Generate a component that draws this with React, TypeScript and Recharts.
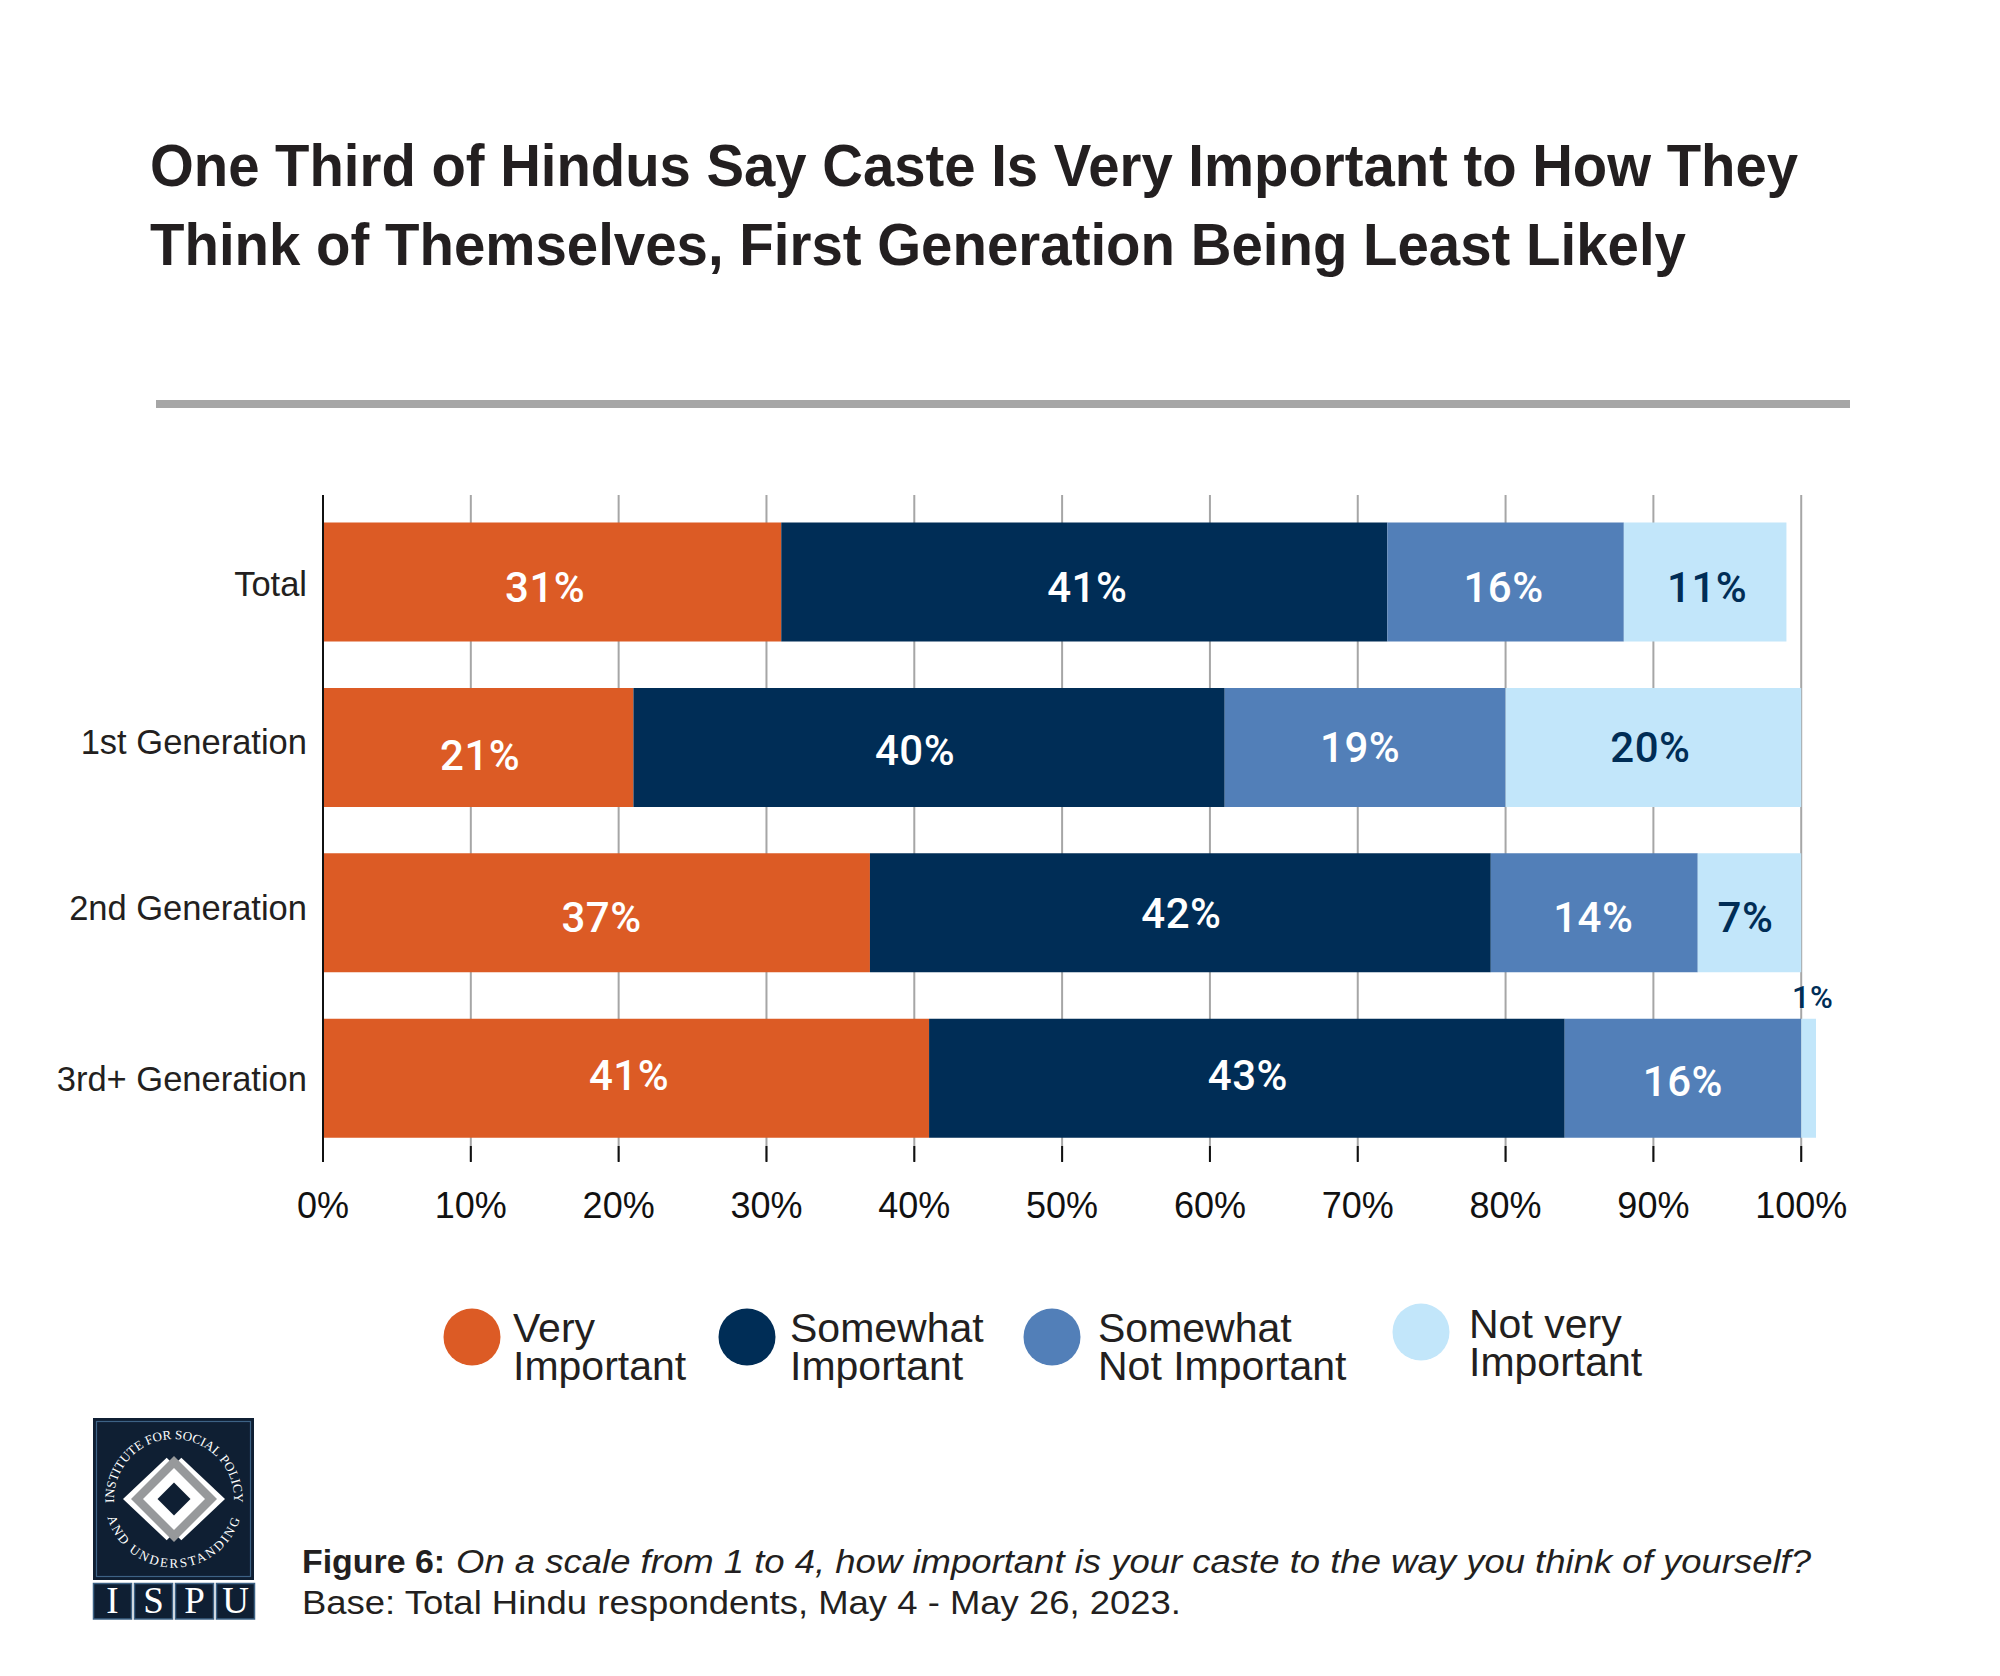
import { BarChart, Bar, XAxis, YAxis, CartesianGrid, LabelList } from "recharts";

const categories = ["Total", "1st Generation", "2nd Generation", "3rd+ Generation"];
const veryImportant = [31, 21, 37, 41];
const somewhatImportant = [41, 40, 42, 43];
const somewhatNot = [16, 19, 14, 16];
const notVery = [11, 20, 7, 1];
const xTicks = [0, 10, 20, 30, 40, 50, 60, 70, 80, 90, 100];

const ORANGE = "#dc5b25";
const NAVY = "#002d56";
const BLUE = "#527fb8";
const LIGHT = "#c2e6fa";
const LOGO = "#0f1f33";
const LOGO_EDGE = "#3d6285";
const INK = "#231f20";
const SANS = "'Liberation Sans', Arial, sans-serif";
const SERIF = "'Liberation Serif', serif";

// hand nudges, the labels in the original are not quite centred on their bars
const nudgeVery = [[-7, 5], [2, 8], [5, 4], [3, -3]];
const nudgeSomewhat = [[3, 5], [-14, 3], [1, 0], [1, -3]];
const nudgeNot = [[-2, 5], [-5, 0], [-1, 4], [0, 3]];
const nudgeNotVery = [[2, 5], [-3, 0], [-4, 4], [4, -81]];
const yTickNudge = [2, -6, -5, 1];

const data = categories.map((name, i) => ({
  name,
  veryImportant: veryImportant[i],
  somewhatImportant: somewhatImportant[i],
  somewhatNot: somewhatNot[i],
  notVery: notVery[i],
}));

const legend = [
  { color: ORANGE, lines: ["Very", "Important"], cx: 472, cy: 1337, tx: 513, y1: 1342, y2: 1380 },
  { color: NAVY, lines: ["Somewhat", "Important"], cx: 747, cy: 1337, tx: 790, y1: 1342, y2: 1380 },
  { color: BLUE, lines: ["Somewhat", "Not Important"], cx: 1052, cy: 1337, tx: 1098, y1: 1342, y2: 1380 },
  { color: LIGHT, lines: ["Not very", "Important"], cx: 1421, cy: 1332, tx: 1469, y1: 1338, y2: 1376 },
];

function barLabel(nudges: number[][], color: string) {
  return (props: any) => {
    const { x, y, width, height, value, index } = props;
    const [dx, dy] = nudges[index];
    const small = value === 1;
    return (
      <text
        x={x + width / 2 + dx}
        y={y + height / 2 + dy + (small ? 11 : 15)}
        textAnchor="middle"
        fontFamily="Roboto, sans-serif"
        fontWeight={500}
        fontSize={small ? 31 : 42}
        letterSpacing={0.5}
        fill={small ? NAVY : color}
      >
        {value}%
      </text>
    );
  };
}

function XTick({ x, y, payload }: any) {
  return (
    <g>
      <line x1={x} x2={x} y1={y - 15} y2={y + 1} stroke="#111" strokeWidth={2} />
      <text x={x} y={y + 57} textAnchor="middle" fontFamily={SANS} fontSize={36} fill="#111">
        {payload.value}%
      </text>
    </g>
  );
}

function YTick({ x, y, payload, index }: any) {
  return (
    <text x={x - 16} y={y + yTickNudge[index] + 12} textAnchor="end" fontFamily={SANS} fontSize={34.5} fill={INK}>
      {payload.value}
    </text>
  );
}

function Logo() {
  const cx = 174;
  const cy = 1499;
  const poly = (pts: number[][]) => pts.map(([a, b]) => `${cx + a},${cy + b}`).join(" ");
  const diamond = (h: number) => poly([[-h, 0], [0, -h], [h, 0], [0, h]]);
  const band = (s: number) => poly([[s * 51, 0], [s * 7.3, -41.3], [0, -34], [0, 34], [s * 7.3, 41.3]]);
  const boxes = ["I", "S", "P", "U"];
  return (
    <g>
      <rect x={93} y={1418} width={161} height={162} fill={LOGO} />
      <rect x={96.5} y={1421.5} width={154} height={155} fill="none" stroke={LOGO_EDGE} strokeWidth={1.2} />
      <polygon points={band(-1)} fill="#fff" />
      <polygon points={band(1)} fill="#fff" />
      <polygon points={diamond(43)} fill="#97999b" />
      <polygon points={diamond(31)} fill="#fff" />
      <polygon points={diamond(16.5)} fill={LOGO} />
      <path id="logoTop" d={`M ${cx - 56.6} ${cy + 20} A 60 60 0 1 1 ${cx + 56.6} ${cy + 20}`} fill="none" />
      <path id="logoBottom" d={`M ${cx - 68.5} ${cy + 8} A 69 69 0 0 0 ${cx + 68.5} ${cy + 8}`} fill="none" />
      <text fontFamily={SERIF} fontSize={13} fill="#fff">
        <textPath href="#logoTop" startOffset="50%" textAnchor="middle">INSTITUTE FOR SOCIAL POLICY</textPath>
      </text>
      <text fontFamily={SERIF} fontSize={13} fill="#fff" letterSpacing={2.2}>
        <textPath href="#logoBottom" startOffset="50%" textAnchor="middle">AND UNDERSTANDING</textPath>
      </text>
      {boxes.map((b, i) => (
        <g key={b}>
          <rect x={93.5 + i * 41} y={1583.5} width={38} height={35.5} fill={LOGO} stroke={LOGO_EDGE} strokeWidth={1.5} />
          <text x={112.5 + i * 41} y={1613} textAnchor="middle" fontFamily={SERIF} fontSize={37} fill="#fff">{b}</text>
        </g>
      ))}
    </g>
  );
}

export default function App() {
  return (
    <div style={{ position: "absolute", left: 0, top: 0, width: 2000, height: 1676, background: "#fff" }}>
      <svg width={2000} height={1676} style={{ position: "absolute", left: 0, top: 0 }}>
        <text x={150} y={186} fontFamily={SANS} fontWeight={700} fontSize={59} fill={INK} textLength={1648} lengthAdjust="spacingAndGlyphs">
          One Third of Hindus Say Caste Is Very Important to How They
        </text>
        <text x={150} y={265} fontFamily={SANS} fontWeight={700} fontSize={59} fill={INK} textLength={1536} lengthAdjust="spacingAndGlyphs">
          Think of Themselves, First Generation Being Least Likely
        </text>
        <rect x={156} y={400} width={1694} height={8} fill="#a6a6a6" />

        {legend.map((l) => (
          <g key={l.lines.join(" ")}>
            <circle cx={l.cx} cy={l.cy} r={28.5} fill={l.color} />
            <text x={l.tx} y={l.y1} fontFamily={SANS} fontSize={41} fill={INK}>{l.lines[0]}</text>
            <text x={l.tx} y={l.y2} fontFamily={SANS} fontSize={41} fill={INK}>{l.lines[1]}</text>
          </g>
        ))}

        <Logo />

        <text x={302} y={1573} fontFamily={SANS} fontWeight={700} fontSize={33} fill={INK} textLength={143} lengthAdjust="spacingAndGlyphs">
          Figure 6:
        </text>
        <text x={456} y={1573} fontFamily={SANS} fontStyle="italic" fontSize={33} fill={INK} textLength={1355} lengthAdjust="spacingAndGlyphs">
          On a scale from 1 to 4, how important is your caste to the way you think of yourself?
        </text>
        <text x={302} y={1614} fontFamily={SANS} fontSize={33} fill={INK} textLength={879} lengthAdjust="spacingAndGlyphs">
          Base: Total Hindu respondents, May 4 - May 26, 2023.
        </text>
      </svg>

      <div style={{ position: "absolute", left: 0, top: 0 }}>
        <BarChart
          width={2000}
          height={1676}
          data={data}
          layout="vertical"
          barSize={119}
          margin={{ top: 495, right: 184, bottom: 455, left: 0 }}
        >
          <CartesianGrid horizontal={false} verticalValues={xTicks} stroke="#a6a6a6" strokeWidth={2} />
          <XAxis
            type="number"
            domain={[0, 101]}
            ticks={xTicks}
            interval={0}
            height={60}
            axisLine={false}
            tickLine={false}
            tickSize={0}
            tickMargin={0}
            tick={<XTick />}
          />
          <YAxis
            type="category"
            dataKey="name"
            width={323}
            padding={{ top: 4.5, bottom: 0 }}
            tickLine={false}
            tickSize={0}
            tickMargin={0}
            axisLine={{ stroke: "#111", strokeWidth: 2 }}
            tick={<YTick />}
          />
          <Bar dataKey="veryImportant" stackId="a" fill={ORANGE} isAnimationActive={false}>
            <LabelList dataKey="veryImportant" content={barLabel(nudgeVery, "#fff")} />
          </Bar>
          <Bar dataKey="somewhatImportant" stackId="a" fill={NAVY} isAnimationActive={false}>
            <LabelList dataKey="somewhatImportant" content={barLabel(nudgeSomewhat, "#fff")} />
          </Bar>
          <Bar dataKey="somewhatNot" stackId="a" fill={BLUE} isAnimationActive={false}>
            <LabelList dataKey="somewhatNot" content={barLabel(nudgeNot, "#fff")} />
          </Bar>
          <Bar dataKey="notVery" stackId="a" fill={LIGHT} isAnimationActive={false}>
            <LabelList dataKey="notVery" content={barLabel(nudgeNotVery, NAVY)} />
          </Bar>
        </BarChart>
      </div>
    </div>
  );
}
